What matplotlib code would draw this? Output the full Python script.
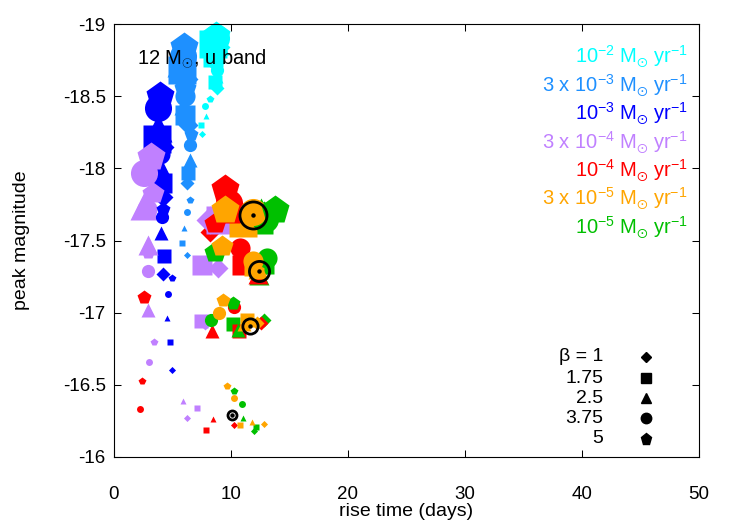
import matplotlib
matplotlib.use('Agg')
import matplotlib.pyplot as plt

plt.rcParams['font.family'] = ['Liberation Sans', 'DejaVu Sans']
plt.rcParams['mathtext.fontset'] = 'custom'
plt.rcParams['mathtext.rm'] = 'Liberation Sans'
plt.rcParams['mathtext.it'] = 'Liberation Sans'
plt.rcParams['axes.unicode_minus'] = False

# beta values -> marker shape (diamond, square, triangle, circle, pentagon)
betas = ['1', '1.75', '2.5', '3.75', '5']
shapes = ['D', 's', '^', 'o', 'p']

# rows = the four model sizes (small -> large), columns = beta values
cyan_x = [[7.5, 7.4, 7.9, 7.8, 8.2], [8.8, 8.6, 8.7, 8.8, 8.7],
          [8.6, 8.5, 8.6, 8.6, 8.7], [8.7, 8.5, 8.6, 8.7, 8.7]]
cyan_y = [[-18.24, -18.30, -18.36, -18.43, -18.48], [-18.56, -18.60, -18.64, -18.68, -18.72],
          [-18.74, -18.77, -18.80, -18.82, -18.85], [-18.84, -18.86, -18.88, -18.90, -18.92]]

lblue_x = [[6.2, 5.8, 6.0, 6.2, 6.5], [6.2, 6.3, 6.5, 6.5, 6.6],
           [6.3, 6.1, 6.0, 6.1, 6.1], [6.0, 5.8, 5.7, 5.9, 6.0]]
lblue_y = [[-17.40, -17.48, -17.59, -17.70, -17.78], [-17.90, -17.97, -18.06, -18.16, -18.24],
           [-18.30, -18.37, -18.44, -18.50, -18.56], [-18.62, -18.68, -18.73, -18.78, -18.84]]

blue_x = [[5.0, 4.8, 4.5, 4.6, 5.0], [4.2, 4.3, 4.0, 4.1, 4.2],
          [4.2, 4.1, 4.0, 3.9, 3.8], [3.9, 3.7, 3.8, 3.8, 3.9]]
blue_y = [[-16.60, -16.80, -16.96, -17.13, -17.24], [-17.27, -17.39, -17.55, -17.66, -17.72],
          [-17.80, -17.90, -18.00, -18.10, -18.18], [-18.15, -18.20, -18.28, -18.42, -18.50]]

purple_x = [[6.2, 7.1, 5.9, 3.0, 3.4], [7.8, 7.4, 2.9, 2.9, 2.9],
            [8.9, 7.5, 2.9, 2.8, 3.3], [8.2, 9.1, 2.6, 2.6, 3.2]]
purple_y = [[-16.27, -16.34, -16.39, -16.66, -16.80], [-16.93, -16.94, -17.02, -17.29, -17.42],
            [-17.31, -17.33, -17.47, -17.72, -17.83], [-17.64, -17.64, -17.74, -17.97, -18.08]]

red_x = [[10.3, 7.9, 8.5, 2.2, 2.4], [12.6, 10.7, 8.4, 10.3, 2.6],
         [8.2, 10.9, 12.3, 10.8, 8.6], [8.8, 10.6, 10.3, 9.8, 9.5]]
red_y = [[-16.22, -16.19, -16.26, -16.33, -16.53], [-16.93, -16.87, -16.87, -17.04, -17.11],
         [-17.56, -17.33, -17.27, -17.45, -17.62], [-17.65, -17.66, -17.72, -17.76, -17.86]]

orange_x = [[12.8, 10.8, 11.8, 10.3, 9.7], [12.2, 11.4, 11.1, 9.0, 9.3],
            [12.6, 12.0, 12.3, 11.9, 9.2], [12.2, 11.0, 11.7, 11.9, 9.5]]
orange_y = [[-16.23, -16.22, -16.24, -16.41, -16.49], [-16.93, -16.95, -16.92, -17.00, -17.09],
            [-17.30, -17.32, -17.30, -17.36, -17.46], [-17.66, -17.62, -17.68, -17.70, -17.71]]

green_x = [[12.0, 12.1, 11.0, 10.9, 10.3], [12.8, 10.2, 10.6, 8.3, 10.2],
           [12.6, 12.8, 12.4, 13.1, 8.6], [12.8, 12.4, 12.6, 12.9, 13.8]]
green_y = [[-16.18, -16.21, -16.27, -16.37, -16.46], [-16.95, -16.92, -16.88, -16.95, -17.07],
           [-17.30, -17.34, -17.26, -17.38, -17.42], [-17.68, -17.64, -17.70, -17.65, -17.71]]

# open black reference circles, one per model size
ref_x = [10.1, 11.6, 12.4, 11.9]
ref_y = [-16.29, -16.91, -17.29, -17.68]

rate_labels = [r'$\mathregular{10^{-2}\ M_{\odot}\ yr^{-1}}$',
               r'$\mathregular{3\ x\ 10^{-3}\ M_{\odot}\ yr^{-1}}$',
               r'$\mathregular{10^{-3}\ M_{\odot}\ yr^{-1}}$',
               r'$\mathregular{3\ x\ 10^{-4}\ M_{\odot}\ yr^{-1}}$',
               r'$\mathregular{10^{-4}\ M_{\odot}\ yr^{-1}}$',
               r'$\mathregular{3\ x\ 10^{-5}\ M_{\odot}\ yr^{-1}}$',
               r'$\mathregular{10^{-5}\ M_{\odot}\ yr^{-1}}$']
rate_colors = ['#00ffff', '#1e90ff', '#0000ff', '#c080ff', '#ff0000', '#ffa500', '#00c000']

size_pt = [5.0, 9.5, 14.5, 19.5]
shape_scale = {'D': 0.72, 's': 1.0, '^': 1.0, 'o': 1.0, 'p': 1.1}

fig = plt.figure(figsize=(7.47, 5.23), dpi=100)
ax = fig.add_axes([0.1526, 0.1262, 0.7831, 0.8279])

series = [('#00ffff', cyan_x, cyan_y), ('#1e90ff', lblue_x, lblue_y),
          ('#0000ff', blue_x, blue_y), ('#00c000', green_x, green_y),
          ('#ff0000', red_x, red_y), ('#c080ff', purple_x, purple_y),
          ('#ffa500', orange_x, orange_y)]

for j, m in enumerate(shapes):
    for color, xs, ys in series:
        for i in range(4):
            ax.plot(xs[i][j], ys[i][j], marker=m, ms=size_pt[i] * shape_scale[m],
                    color=color, mec='none', linestyle='none', clip_on=False)

ref_sizes = [6.5, 11, 14.5, 19.5]
for i in range(4):
    ax.plot(ref_x[i], ref_y[i], marker='o', ms=ref_sizes[i], mfc='none',
            mec='black', mew=2, linestyle='none')
    ax.plot(ref_x[i], ref_y[i], marker='o', ms=2.2, color='black', linestyle='none')

ax.set_xlim(0, 50)
ax.set_ylim(-16, -19)
ax.set_xticks([0, 10, 20, 30, 40, 50])
ax.set_yticks([-19, -18.5, -18, -17.5, -17, -16.5, -16])
ax.set_yticklabels(['%g' % v for v in [-19, -18.5, -18, -17.5, -17, -16.5, -16]])
ax.tick_params(direction='in', length=5, width=0.75, top=True, right=True, labelsize=13.5)
ax.tick_params(axis='x', pad=21)
ax.tick_params(axis='y', pad=6)
for s in ax.spines.values():
    s.set_linewidth(0.8)

fig.text(22 / 747, 1 - 240 / 523, 'peak magnitude', rotation=90, ha='center', va='center', fontsize=14)
fig.text(406 / 747, 1 - 511 / 523, 'rise time (days)', ha='center', va='center', fontsize=14)

ax.text(0.04, 0.92, r'12 M$_{\odot}$, u band', transform=ax.transAxes, ha='left', va='center', fontsize=14.5)

for k, (lab, col) in enumerate(zip(rate_labels, rate_colors)):
    ax.text(0.981, 0.910 - k * 0.0655, lab, color=col, transform=ax.transAxes,
            ha='right', va='baseline', fontsize=14.5)

leg_y = [0.231, 0.182, 0.136, 0.090, 0.042]
for k, (b, m) in enumerate(zip(betas, shapes)):
    txt = 'β = ' + b if k == 0 else b
    ax.text(0.836, leg_y[k], txt, transform=ax.transAxes, ha='right', va='center', fontsize=14)
    ax.plot(0.909, leg_y[k], marker=m, ms=7.5 * shape_scale[m], color='black',
            linestyle='none', transform=ax.transAxes)

fig.savefig('out.png', dpi=100)
